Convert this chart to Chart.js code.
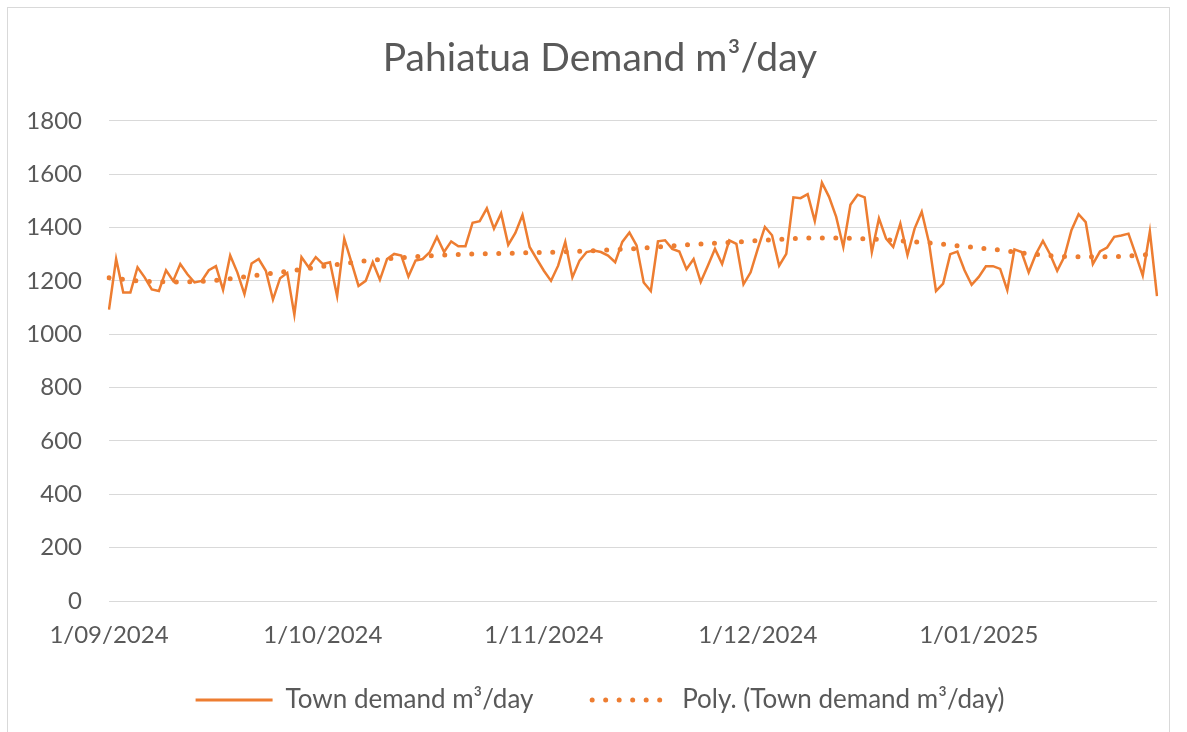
<!DOCTYPE html>
<html>
<head>
<meta charset="utf-8">
<title>Pahiatua Demand</title>
<script src="https://cdn.jsdelivr.net/npm/chart.js@4.4.1/dist/chart.umd.min.js"></script>
<style>
  html, body { margin: 0; padding: 0; background: #fff; }
  #wrap { position: relative; width: 1187px; height: 732px; overflow: hidden; }
  #frame { position: absolute; left: 7px; top: 7px; width: 1163px; height: 760px; border: 1px solid #d9d9d9; box-sizing: border-box; }
  canvas { position: absolute; left: 0; top: 0; }
</style>
</head>
<body>
<div id="wrap">
  <div id="frame"></div>
  <canvas id="demandChart" width="1187" height="732"></canvas>
</div>
<script>
const startDate = new Date(2024, 8, 1); // 1/09/2024

// daily town demand, m3/day (1/09/2024 .. 26/01/2025)
const demand = [
  1092, 1282, 1156, 1156, 1251, 1213, 1168, 1162, 1240, 1200,
  1263, 1225, 1194, 1200, 1240, 1255, 1166, 1295, 1232, 1150,
  1265, 1282, 1238, 1130, 1210, 1230, 1073, 1289, 1251, 1289,
  1263, 1270, 1143, 1358, 1270, 1181, 1200, 1270, 1204, 1282,
  1301, 1295, 1216, 1276, 1282, 1308, 1365, 1308, 1348, 1330,
  1330, 1418, 1424, 1472, 1396, 1453, 1335, 1380, 1447, 1327,
  1282, 1238, 1200, 1257, 1346, 1213, 1276, 1308, 1314, 1308,
  1295, 1270, 1346, 1381, 1333, 1194, 1162, 1348, 1352, 1320,
  1310, 1244, 1282, 1196, 1257, 1320, 1263, 1352, 1339, 1187,
  1232, 1320, 1402, 1371, 1257, 1301, 1513, 1510, 1525, 1424,
  1568, 1515, 1440, 1327, 1485, 1523, 1513, 1308, 1434, 1358,
  1327, 1415, 1297, 1396, 1459, 1346, 1162, 1190, 1300, 1310,
  1240, 1185, 1215, 1255, 1255, 1245, 1165, 1318, 1308, 1232,
  1300, 1350, 1300, 1238, 1290, 1390, 1450, 1420, 1263, 1310,
  1325, 1365, 1370, 1377, 1300, 1220, 1385, 1143
];

// polynomial trend line, sampled off the chart (day index -> value)
const trendDays   = [0, 5, 10, 15, 20, 25, 30, 35, 40, 45, 50, 55, 60, 65, 70, 75, 80, 85, 90, 95, 100, 105, 110, 115, 120, 125, 130, 135, 140, 145, 147];
const trendValues = [1212, 1198, 1196, 1202, 1218, 1236, 1254, 1272, 1285, 1294, 1300, 1303, 1306, 1310, 1316, 1323, 1333, 1341, 1349, 1357, 1361, 1359, 1352, 1342, 1329, 1315, 1299, 1291, 1290, 1297, 1303];

const yTicks = { min: 0, max: 1800, step: 200 };

const labels = demand.map((v, i) => {
  const d = new Date(startDate.getFullYear(), startDate.getMonth(), startDate.getDate() + i);
  return d.getDate() + '/' + String(d.getMonth() + 1).padStart(2, '0') + '/' + d.getFullYear();
});

const orange = '#ED7D31';
const grey = '#595959';
const fontFamily = 'Lato, "Open Sans", sans-serif';

// title and legend sit a little right of the canvas centre in the original
const blockShift = {
  id: 'blockShift',
  afterLayout(c) {
    c.legend.left += 17;
    c.legend.right += 17;
    c.titleBlock.left += 17;
    c.titleBlock.right += 17;
  }
};

const ctx = document.getElementById('demandChart').getContext('2d');
const chart = new Chart(ctx, {
  type: 'line',
  data: {
    labels: labels,
    datasets: [{
      label: 'Town demand m³/day',
      data: demand,
      borderColor: orange,
      backgroundColor: orange,
      borderWidth: 2.5,
      pointRadius: 0,
      tension: 0,
      order: 1
    }, {
      label: 'Poly. (Town demand m³/day)',
      data: trendDays.map((d, k) => ({ x: labels[d], y: trendValues[k] })),
      borderColor: orange,
      backgroundColor: orange,
      borderWidth: 5,
      borderDash: [0, 13.5],
      borderCapStyle: 'round',
      pointRadius: 0,
      cubicInterpolationMode: 'monotone',
      spanGaps: true,
      order: 0
    }]
  },
  plugins: [blockShift],
  options: {
    responsive: false,
    devicePixelRatio: 1,
    animation: false,
    layout: { padding: { left: 9, right: 30, top: 0, bottom: 9 } },
    plugins: {
      tooltip: { enabled: false },
      title: {
        display: true,
        text: 'Pahiatua Demand m³/day',
        color: grey,
        font: { family: fontFamily, size: 39, weight: 'normal' },
        padding: { top: 35, bottom: 39 }
      },
      legend: {
        position: 'bottom',
        labels: {
          usePointStyle: true,
          pointStyle: 'line',
          pointStyleWidth: 77,
          boxHeight: 26,
          padding: 10,
          color: grey,
          font: { family: fontFamily, size: 26 },
          generateLabels: c => c.data.datasets.map((ds, i) => ({
            text: ds.label + (i === 0 ? '\u2003\u2002\u2002\u2009' : ''),
            fillStyle: ds.borderColor,
            strokeStyle: ds.borderColor,
            lineWidth: i === 0 ? 3 : ds.borderWidth,
            lineDash: ds.borderDash || [],
            lineCap: ds.borderCapStyle || 'butt',
            pointStyle: 'line',
            fontColor: grey,
            hidden: false,
            datasetIndex: i
          }))
        }
      }
    },
    scales: {
      x: {
        type: 'category',
        offset: false,
        grid: { display: false, drawTicks: false },
        border: { display: false },
        ticks: {
          autoSkip: false,
          maxRotation: 0,
          padding: 20,
          color: grey,
          font: { family: fontFamily, size: 24 },
          callback: function (value) {
            const lab = this.getLabelForValue(value);
            return lab.startsWith('1/') ? lab : '';
          }
        },
        afterFit: s => { s.height = 76; }
      },
      y: {
        min: yTicks.min,
        max: yTicks.max,
        grid: { color: '#d9d9d9', lineWidth: 1, drawTicks: false },
        border: { display: false },
        ticks: {
          stepSize: yTicks.step,
          padding: 27,
          color: grey,
          font: { family: fontFamily, size: 24 },
          callback: value => String(value)
        },
        afterFit: s => { s.width = 100; }
      }
    }
  }
});
</script>
</body>
</html>
